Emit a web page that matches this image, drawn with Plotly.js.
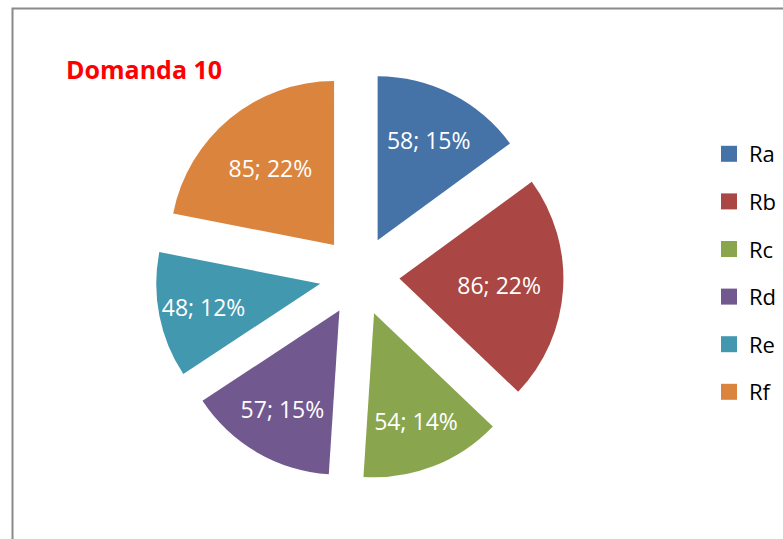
<!DOCTYPE html>
<html>
<head>
<meta charset="utf-8">
<script src="https://cdn.plot.ly/plotly-3.0.1.min.js"></script>
<style>html,body{margin:0;padding:0;background:#fff;}#chart{width:783px;height:539px;}</style>
</head>
<body>
<div id="chart"></div>
<script>
const categories = ["Ra", "Rb", "Rc", "Rd", "Re", "Rf"];
const values = [58, 86, 54, 57, 48, 85];
const colors = ["#4572A7", "#AA4643", "#89A54E", "#71588F", "#4198AF", "#DB843D"];
const chartTitle = "Domanda 10";

const pie = {
  type: "pie",
  labels: categories,
  values: values,
  sort: false,
  direction: "clockwise",
  rotation: 0,
  pull: 0.244,
  marker: {colors: colors, line: {width: 0}},
  texttemplate: "%{value}; %{percent:.0%}",
  textposition: "inside",
  insidetextorientation: "horizontal",
  textfont: {family: "Open Sans, sans-serif", size: 23, color: "#ffffff"},
  domain: {x: [155.5/783, 563.5/783], y: [1 - 480/539, 1 - 72/539]},
  showlegend: false,
  hoverinfo: "label+value+percent"
};

const legendTraces = categories.map((c, i) => ({
  type: "scatter",
  x: [null], y: [null],
  mode: "markers",
  name: c,
  legendgroup: c,
  marker: {symbol: "square", size: 16, color: colors[i]},
  showlegend: true,
  hoverinfo: "skip"
}));

const layout = {
  width: 783, height: 539,
  margin: {l: 0, r: 0, t: 0, b: 0},
  paper_bgcolor: "#ffffff",
  plot_bgcolor: "rgba(0,0,0,0)",
  title: {
    text: "<b>" + chartTitle + "</b>",
    font: {family: "Open Sans, sans-serif", size: 25, color: "#FF0000"},
    x: 66/783, xanchor: "left", xref: "paper",
    y: 1 - 70/539, yanchor: "middle", yref: "paper"
  },
  xaxis: {visible: false, domain: [0.99, 1]},
  yaxis: {visible: false, domain: [0.99, 1]},
  showlegend: true,
  legend: {
    x: 709/783, xanchor: "left",
    y: 1 - 133/539, yanchor: "top",
    font: {family: "Open Sans, sans-serif", size: 22, color: "#000000"},
    tracegroupgap: 16,
    itemwidth: 30,
    bgcolor: "rgba(0,0,0,0)",
    itemclick: false, itemdoubleclick: false
  },
  shapes: [{
    type: "rect", xref: "paper", yref: "paper",
    x0: 12.5/783, x1: 1.1, y0: -0.1, y1: 1 - 8.5/539,
    line: {color: "#8A8A8A", width: 2}, fillcolor: "rgba(0,0,0,0)", layer: "below"
  }]
};

Plotly.newPlot("chart", [pie].concat(legendTraces), layout, {displayModeBar: false, staticPlot: true});
</script>
</body>
</html>
